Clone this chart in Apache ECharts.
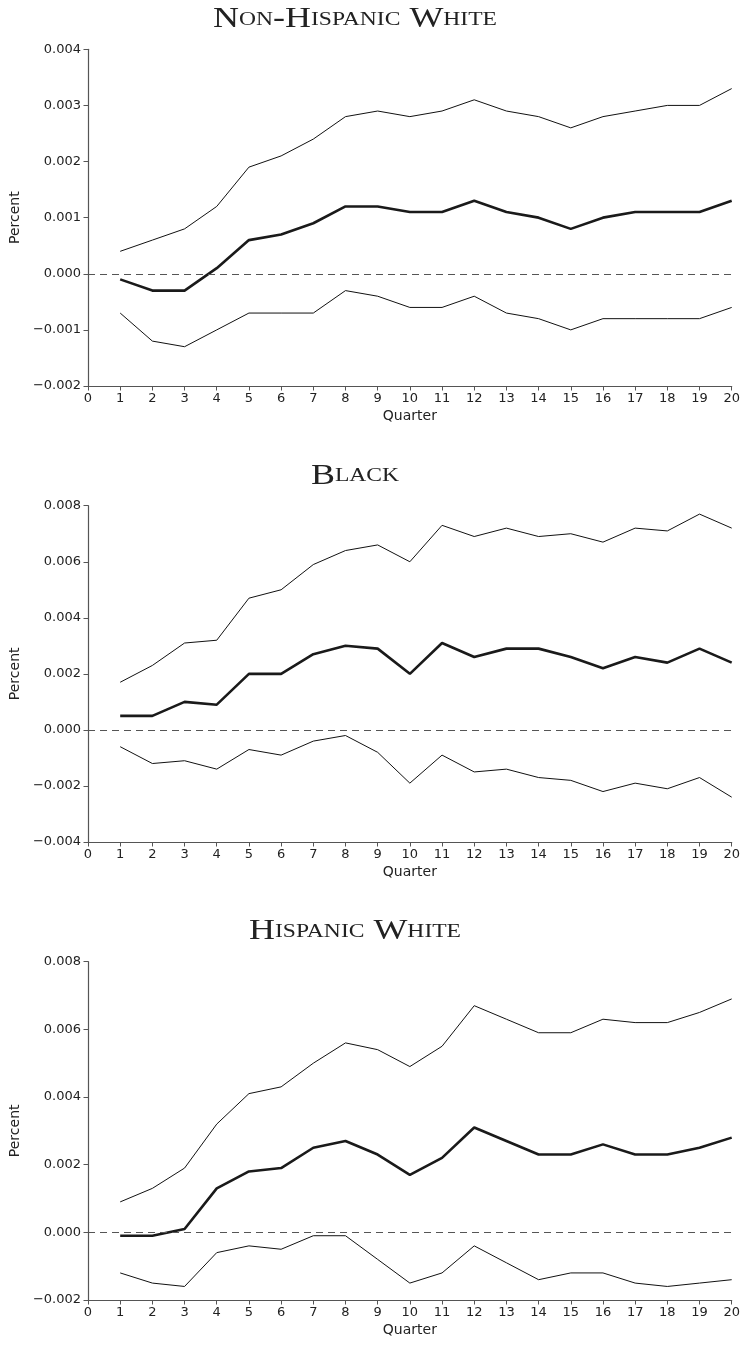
<!DOCTYPE html>
<html>
<head>
<meta charset="utf-8">
<script src="https://cdn.jsdelivr.net/npm/echarts@6/dist/echarts.min.js"></script>
<style>
html,body{margin:0;padding:0;background:#fff;}
#c{width:746px;height:1345px;}
</style>
</head>
<body>
<div id="c"></div>
<script>
var quarters = [1,2,3,4,5,6,7,8,9,10,11,12,13,14,15,16,17,18,19,20];

var nhwUpper = [0.0004,0.0006,0.0008,0.0012,0.0019,0.0021,0.0024,0.0028,0.0029,0.0028,0.0029,0.0031,0.0029,0.0028,0.0026,0.0028,0.0029,0.0030,0.0030,0.0033];
var nhwMid   = [-0.0001,-0.0003,-0.0003,0.0001,0.0006,0.0007,0.0009,0.0012,0.0012,0.0011,0.0011,0.0013,0.0011,0.0010,0.0008,0.0010,0.0011,0.0011,0.0011,0.0013];
var nhwLower = [-0.0007,-0.0012,-0.0013,-0.0010,-0.0007,-0.0007,-0.0007,-0.0003,-0.0004,-0.0006,-0.0006,-0.0004,-0.0007,-0.0008,-0.0010,-0.0008,-0.0008,-0.0008,-0.0008,-0.0006];

var blkUpper = [0.0017,0.0023,0.0031,0.0032,0.0047,0.0050,0.0059,0.0064,0.0066,0.0060,0.0073,0.0069,0.0072,0.0069,0.0070,0.0067,0.0072,0.0071,0.0077,0.0072];
var blkMid   = [0.0005,0.0005,0.0010,0.0009,0.0020,0.0020,0.0027,0.0030,0.0029,0.0020,0.0031,0.0026,0.0029,0.0029,0.0026,0.0022,0.0026,0.0024,0.0029,0.0024];
var blkLower = [-0.0006,-0.0012,-0.0011,-0.0014,-0.0007,-0.0009,-0.0004,-0.0002,-0.0008,-0.0019,-0.0009,-0.0015,-0.0014,-0.0017,-0.0018,-0.0022,-0.0019,-0.0021,-0.0017,-0.0024];

var hwUpper = [0.0009,0.0013,0.0019,0.0032,0.0041,0.0043,0.0050,0.0056,0.0054,0.0049,0.0055,0.0067,0.0063,0.0059,0.0059,0.0063,0.0062,0.0062,0.0065,0.0069];
var hwMid   = [-0.0001,-0.0001,0.0001,0.0013,0.0018,0.0019,0.0025,0.0027,0.0023,0.0017,0.0022,0.0031,0.0027,0.0023,0.0023,0.0026,0.0023,0.0023,0.0025,0.0028];
var hwLower = [-0.0012,-0.0015,-0.0016,-0.0006,-0.0004,-0.0005,-0.0001,-0.0001,-0.0008,-0.0015,-0.0012,-0.0004,-0.0009,-0.0014,-0.0012,-0.0012,-0.0015,-0.0016,-0.0015,-0.0014];

var xTicks = [0,20,1];
var yRanges = [[-0.002,0.004,0.001],[-0.004,0.008,0.002],[-0.002,0.008,0.002]];

// Titles: "Non-Hispanic White", "Black", "Hispanic White" set in small capitals
var titleParts = [
  [['a','N'],['b','ON'],['a','-H'],['b','ISPANIC'],['a',' W'],['b','HITE']],
  [['a','B'],['b','LACK']],
  [['a','H'],['b','ISPANIC'],['a',' W'],['b','HITE']]
];
var panels = [
  {upper:nhwUpper, mid:nhwMid, lower:nhwLower},
  {upper:blkUpper, mid:blkMid, lower:blkLower},
  {upper:hwUpper, mid:hwMid, lower:hwLower}
];

var gridTops = [49.3, 505.7, 961.7];
var gridBottoms = [386, 842, 1300];
var titleY = [19.7, 476, 931.7];

var axisColor = '#555';
var labelFont = 'DejaVu Sans';

function zip(xs, ys){ return xs.map(function(x,i){return [x, ys[i]];}); }
function fmt(v){
  var s = Math.abs(v).toFixed(3);
  return (v < -1e-12 ? '\u2212' : '') + s;
}

var option = {
  backgroundColor:'#fff',
  animation:false,
  graphic:[], grid:[], xAxis:[], yAxis:[], series:[]
};

for (var i=0;i<3;i++){
  var txt = titleParts[i].map(function(p){return '{'+p[0]+'|'+p[1]+'}';}).join('');
  option.graphic.push({
    type:'text', x:355, y:titleY[i], scaleX:1.24, scaleY:1,
    style:{
      text: txt,
      align:'center', verticalAlign:'middle',
      textAlign:'center', textVerticalAlign:'middle',
      fill:'#222',
      rich:{
        a:{fontFamily:'Liberation Serif', fontSize:29, fontWeight:'normal', fill:'#222'},
        b:{fontFamily:'Liberation Serif', fontSize:19, fontWeight:'normal', fill:'#222'}
      }
    }
  });
  option.grid.push({left:83.5, width:648.2, top:gridTops[i], height:gridBottoms[i]-gridTops[i], containLabel:false});
  option.xAxis.push({
    type:'value', gridIndex:i, min:xTicks[0], max:xTicks[1], interval:xTicks[2],
    name:'Quarter', nameLocation:'middle', nameGap:23,
    nameTextStyle:{fontFamily:labelFont, fontSize:14, color:'#222'},
    axisLine:{show:true, onZero:false, lineStyle:{color:axisColor, width:1.2}},
    axisTick:{show:true, length:4.5, lineStyle:{color:axisColor, width:1}},
    axisLabel:{fontFamily:labelFont, fontSize:13, color:'#222', margin:6},
    splitLine:{show:false}
  });
  option.yAxis.push({
    type:'value', gridIndex:i, min:yRanges[i][0], max:yRanges[i][1], interval:yRanges[i][2],
    name:'Percent', nameLocation:'middle', nameGap:56,
    nameTextStyle:{fontFamily:labelFont, fontSize:14, color:'#222'},
    axisLine:{show:true, onZero:false, lineStyle:{color:axisColor, width:1.2}},
    axisTick:{show:true, length:4.5, lineStyle:{color:axisColor, width:1}},
    axisLabel:{fontFamily:labelFont, fontSize:13, color:'#222', margin:7, formatter:fmt},
    splitLine:{show:false}
  });
  var p = panels[i];
  option.series.push({
    type:'line', xAxisIndex:i, yAxisIndex:i, data:zip(quarters,p.upper),
    symbol:'none', lineStyle:{color:'#111', width:1}
  });
  option.series.push({
    type:'line', xAxisIndex:i, yAxisIndex:i, data:zip(quarters,p.lower),
    symbol:'none', lineStyle:{color:'#111', width:1}
  });
  option.series.push({
    type:'line', xAxisIndex:i, yAxisIndex:i, data:zip(quarters,p.mid),
    symbol:'none', lineStyle:{color:'#1a1a1a', width:2.6},
    markLine:{
      silent:true, symbol:['none','none'], label:{show:false},
      lineStyle:{color:'#555', type:[7,5], width:1.2},
      data:[{yAxis:0}]
    }
  });
}

var chart = echarts.init(document.getElementById('c'), null, {renderer:'canvas'});
chart.setOption(option);
</script>
</body>
</html>
